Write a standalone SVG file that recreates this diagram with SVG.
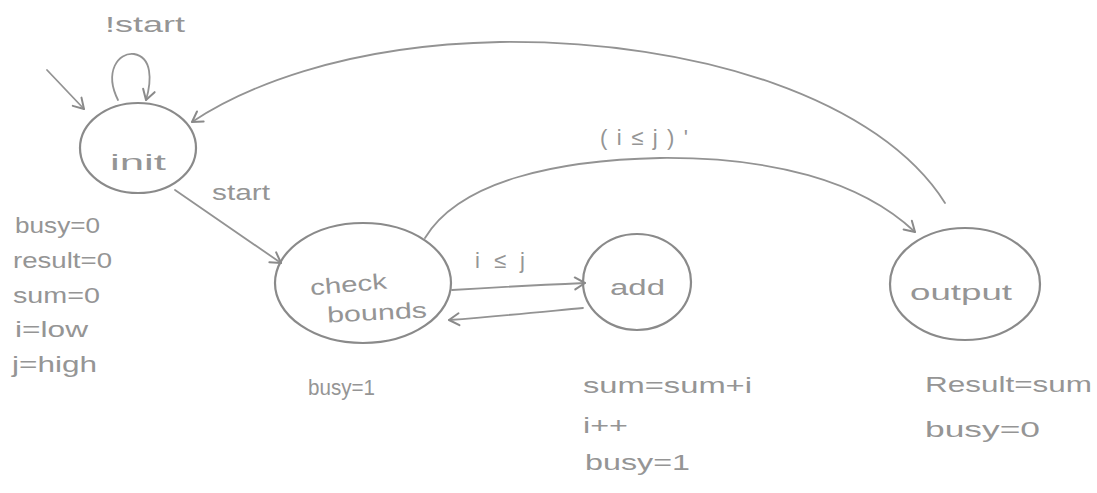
<svg xmlns="http://www.w3.org/2000/svg" width="1097" height="493" viewBox="0 0 1097 493">
<style>
.st{fill:none;stroke:#8a8a8a;stroke-width:2.2;stroke-linecap:round}
.ed{fill:none;stroke:#939393;stroke-width:1.8;stroke-linecap:round}
text{font-family:"Liberation Sans",Arial,sans-serif;fill:#959595;font-size:22px}
</style>
<defs>
<marker id="ah" markerWidth="16" markerHeight="16" refX="12" refY="8" orient="auto" markerUnits="userSpaceOnUse">
<path d="M2 2 L12 8 L2 14" fill="none" stroke="#8a8a8a" stroke-width="2" stroke-linecap="round" stroke-linejoin="round"/>
</marker>
</defs>
<rect width="1097" height="493" fill="#ffffff"/>
<g id="connectors">
<path class="ed" d="M47 70 L84 109" marker-end="url(#ah)"/>
<path class="ed" d="M118 100 C104 72 118 52 134 54 C152 57 152 80 146 100" marker-end="url(#ah)"/>
<text x="145" y="32" text-anchor="middle" textLength="80" lengthAdjust="spacingAndGlyphs">!start</text>
<path class="ed" d="M945 203 C880 100 700 40 500 42 C340 45 240 90 192 122" marker-end="url(#ah)"/>
<path class="ed" d="M175 190 L281 263" marker-end="url(#ah)"/>
<text x="212" y="200" textLength="58" lengthAdjust="spacingAndGlyphs">start</text>
<path class="ed" d="M425 238 C460 180 560 160 660 158 C770 157 860 180 915 232" marker-end="url(#ah)"/>
<text x="600" y="145" textLength="88" lengthAdjust="spacing">(i≤j)'</text>
<path class="ed" d="M452 290 C500 287 540 285 585 283" marker-end="url(#ah)"/>
<text x="475" y="268" textLength="50" lengthAdjust="spacing">i≤j</text>
<path class="ed" d="M583 308 C540 312 500 316 449 320" marker-end="url(#ah)"/>
</g>
<g id="init">
<ellipse class="st" cx="138" cy="148" rx="58" ry="45"/>
<text x="110" y="170" font-size="28" textLength="56" lengthAdjust="spacingAndGlyphs">init</text>
<text x="15" y="233" textLength="85" lengthAdjust="spacingAndGlyphs">busy=0</text>
<text x="13" y="268" textLength="99" lengthAdjust="spacingAndGlyphs">result=0</text>
<text x="13" y="303" textLength="87" lengthAdjust="spacingAndGlyphs">sum=0</text>
<text x="15" y="337" textLength="73" lengthAdjust="spacingAndGlyphs">i=low</text>
<text x="12" y="372" textLength="85" lengthAdjust="spacingAndGlyphs">j=high</text>
</g>
<g id="check-bounds">
<ellipse class="st" cx="363" cy="283" rx="88" ry="60"/>
<text x="310" y="292" textLength="77" lengthAdjust="spacingAndGlyphs" transform="rotate(-5 348 285)">check</text>
<text x="327" y="320" textLength="100" lengthAdjust="spacingAndGlyphs" transform="rotate(-3 377 313)">bounds</text>
<text x="308" y="395" textLength="67" lengthAdjust="spacingAndGlyphs">busy=1</text>
</g>
<g id="add">
<ellipse class="st" cx="637" cy="282" rx="54" ry="48"/>
<text x="610" y="295" textLength="55" lengthAdjust="spacingAndGlyphs">add</text>
<text x="583" y="393" textLength="169" lengthAdjust="spacingAndGlyphs">sum=sum+i</text>
<text x="583" y="433" textLength="45" lengthAdjust="spacingAndGlyphs">i++</text>
<text x="585" y="470" textLength="105" lengthAdjust="spacingAndGlyphs">busy=1</text>
</g>
<g id="output">
<ellipse class="st" cx="965" cy="284" rx="75" ry="56"/>
<text x="910" y="300" textLength="102" lengthAdjust="spacingAndGlyphs">output</text>
<text x="925" y="392" textLength="167" lengthAdjust="spacingAndGlyphs">Result=sum</text>
<text x="925" y="437" textLength="115" lengthAdjust="spacingAndGlyphs">busy=0</text>
</g>
</svg>
